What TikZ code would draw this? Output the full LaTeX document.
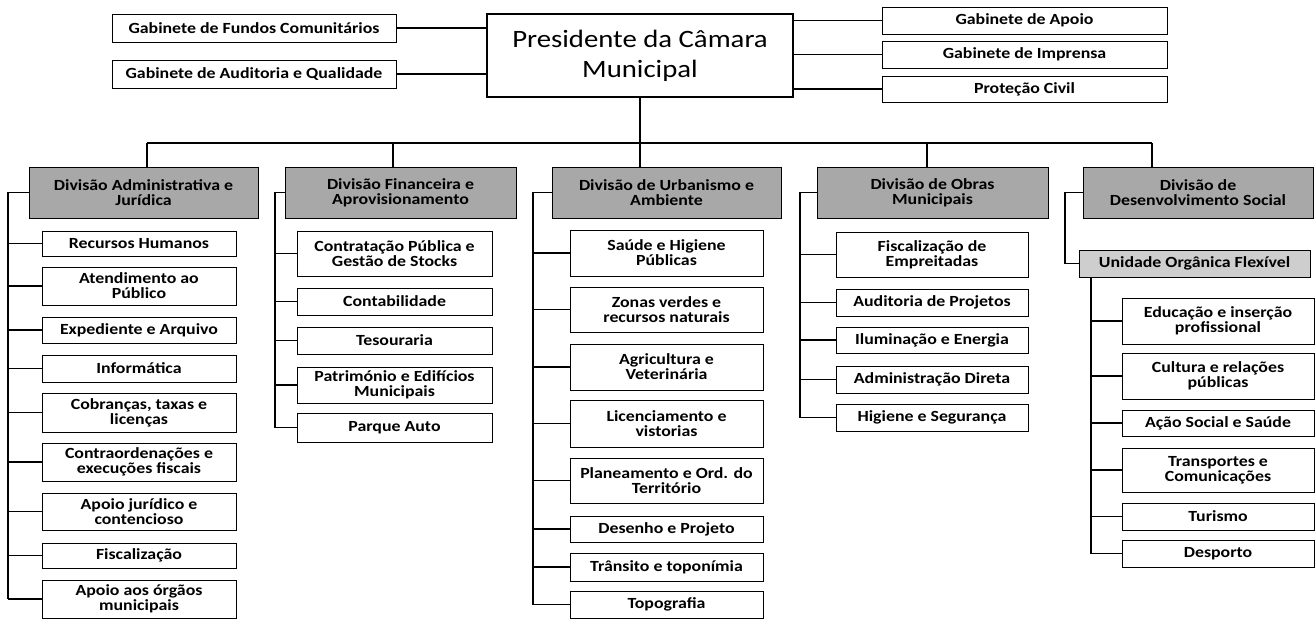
\documentclass[tikz,border=0pt]{standalone}
\usepackage{fontspec}
\setmainfont{Carlito}
\newfontfamily\orgfam[FakeStretch=1.15]{Carlito}
\definecolor{divgray}{RGB}{168,168,168}
\definecolor{unitgray}{RGB}{206,206,206}
\newcommand{\orgfont}{\orgfam\fontsize{15.5}{15}\selectfont\bfseries}
\newcommand{\presfont}{\orgfam\fontsize{25}{30}\selectfont}
\begin{document}
\begin{tikzpicture}[x=1pt,y=-1pt,
    box/.style={draw,line width=0.9pt,fill=white,inner sep=0pt,align=center,font=\orgfont},
    divbox/.style={box,fill=divgray,minimum width=230,minimum height=51},
    link/.style={line width=1.3pt}]
    \useasboundingbox (0,0) rectangle (1316,619);

    % topo
    \node[draw,line width=2.6pt,minimum width=306,minimum height=83,align=center,font=\presfont] (pres) at (640,55.5) {Presidente da Câmara\\Municipal};
    \node[box,minimum width=284,minimum height=28] (fundos) at (254,28) {Gabinete de Fundos Comunitários};
    \node[box,minimum width=284,minimum height=28] (audq) at (254,74) {Gabinete de Auditoria e Qualidade};
    \node[box,minimum width=285,minimum height=27] (apoio) at (1024.5,20.5) {Gabinete de Apoio};
    \node[box,minimum width=285,minimum height=27] (imprensa) at (1024.5,54.5) {Gabinete de Imprensa};
    \node[box,minimum width=285,minimum height=26] (protecao) at (1024.5,89) {Proteção Civil};
    \draw[link] (fundos.east) -- (fundos.east -| pres.west);
    \draw[link] (audq.east) -- (audq.east -| pres.west);
    \draw[link] (apoio.west -| pres.east) -- (apoio.west);
    \draw[link] (imprensa.west -| pres.east) -- (imprensa.west);
    \draw[link] (protecao.west -| pres.east) -- (protecao.west);

    % divisoes
    \node[divbox,minimum width=229] (div1) at (143.5,192.5) {Divisão Administrativa e\\Jurídica};
    \node[divbox,minimum width=231] (div2) at (400.5,192.5) {Divisão Financeira e\\Aprovisionamento};
    \node[divbox,minimum width=229] (div3) at (666.5,192.5) {Divisão de Urbanismo e\\Ambiente};
    \node[divbox,minimum width=231] (div4) at (932.5,192.5) {Divisão de Obras\\Municipais};
    \node[divbox,minimum width=230] (div5) at (1198,192.5) {Divisão de\\Desenvolvimento Social};

    \coordinate (d1) at (147,143);
    \coordinate (d2) at (393,143);
    \coordinate (d3) at (640,143);
    \coordinate (d4) at (927,143);
    \coordinate (d5) at (1152,143);
    \draw[link] (pres.south) -- (d3);
    \draw[link] (d1) -- (d5);
    \foreach \k in {1,...,5}
        \draw[link] (d\k) -- (d\k |- div\k.north);

    \coordinate (s1) at (8,0);
    \coordinate (s2) at (275,0);
    \coordinate (s3) at (533,0);
    \coordinate (s4) at (800,0);
    \coordinate (s5) at (1065,0);
    \coordinate (s6) at (1091,0);

    % Divisao Administrativa e Juridica
    \foreach \i/\yt/\yb/\txt in {1/231/256/{Recursos Humanos},2/267/305/{Atendimento ao\\Público},
        3/317/343/{Expediente e Arquivo},4/355/382/{Informática},5/393/432/{Cobranças, taxas e\\licenças},
        6/443/481/{Contraordenações e\\execuções fiscais},7/493/530/{Apoio jurídico e\\contencioso},
        8/543/568/{Fiscalização},9/580/618/{Apoio aos órgãos\\municipais}}{
        \node[box,minimum width=194,minimum height={\yb-\yt}] (adm\i) at (139,{(\yt+\yb)/2}) {\txt};
        \draw[link] (s1 |- adm\i.west) -- (adm\i.west);
    }
    \draw[link] (div1.west) -| (s1 |- adm9.west);

    % Divisao Financeira e Aprovisionamento
    \foreach \i/\yt/\yb/\txt in {1/231/276/{Contratação Pública e\\Gestão de Stocks},2/288/315/{Contabilidade},
        3/327/354/{Tesouraria},4/367/403/{Património e Edifícios\\Municipais},5/413/442/{Parque Auto}}{
        \node[box,minimum width=195,minimum height={\yb-\yt}] (fin\i) at (394.5,{(\yt+\yb)/2}) {\txt};
        \draw[link] (s2 |- fin\i.west) -- (fin\i.west);
    }
    \draw[link] (div2.west) -| (s2 |- fin5.west);

    % Divisao de Urbanismo e Ambiente
    \foreach \i/\yt/\yb/\txt in {1/230/276/{Saúde e Higiene\\Públicas},2/287/332/{Zonas verdes e\\recursos naturais},
        3/344/390/{Agricultura e\\Veterinária},4/400/447/{Licenciamento e\\vistorias},
        5/458/503/{Planeamento e Ord. do\\Território},6/516/542/{Desenho e Projeto},
        7/553/581/{Trânsito e toponímia},8/591/618/{Topografia}}{
        \node[box,minimum width=193,minimum height={\yb-\yt}] (urb\i) at (666.5,{(\yt+\yb)/2}) {\txt};
        \draw[link] (s3 |- urb\i.west) -- (urb\i.west);
    }
    \draw[link] (div3.west) -| (s3 |- urb8.west);

    % Divisao de Obras Municipais
    \foreach \i/\yt/\yb/\txt in {1/232/277/{Fiscalização de\\Empreitadas},2/289/316/{Auditoria de Projetos},
        3/327/353/{Iluminação e Energia},4/366/393/{Administração Direta},5/404/431/{Higiene e Segurança}}{
        \node[box,minimum width=192,minimum height={\yb-\yt}] (obr\i) at (932,{(\yt+\yb)/2}) {\txt};
        \draw[link] (s4 |- obr\i.west) -- (obr\i.west);
    }
    \draw[link] (div4.west) -| (s4 |- obr5.west);

    % Divisao de Desenvolvimento Social
    \node[box,fill=unitgray,minimum width=231,minimum height=27] (unid) at (1194.5,263.5) {Unidade Orgânica Flexível};
    \draw[link] (div5.west) -| (s5 |- unid.west) -- (unid.west);
    \foreach \i/\yt/\yb/\txt in {1/298/344/{Educação e inserção\\profissional},2/353/399/{Cultura e relações\\públicas},
        3/410/436/{Ação Social e Saúde},4/448/492/{Transportes e\\Comunicações},5/503/530/{Turismo},6/540/567/{Desporto}}{
        \node[box,minimum width=192,minimum height={\yb-\yt}] (soc\i) at (1218,{(\yt+\yb)/2}) {\txt};
        \draw[link] (s6 |- soc\i.west) -- (soc\i.west);
    }
    \draw[link] (s6 |- unid.south) -- (s6 |- soc6.west);
\end{tikzpicture}
\end{document}
